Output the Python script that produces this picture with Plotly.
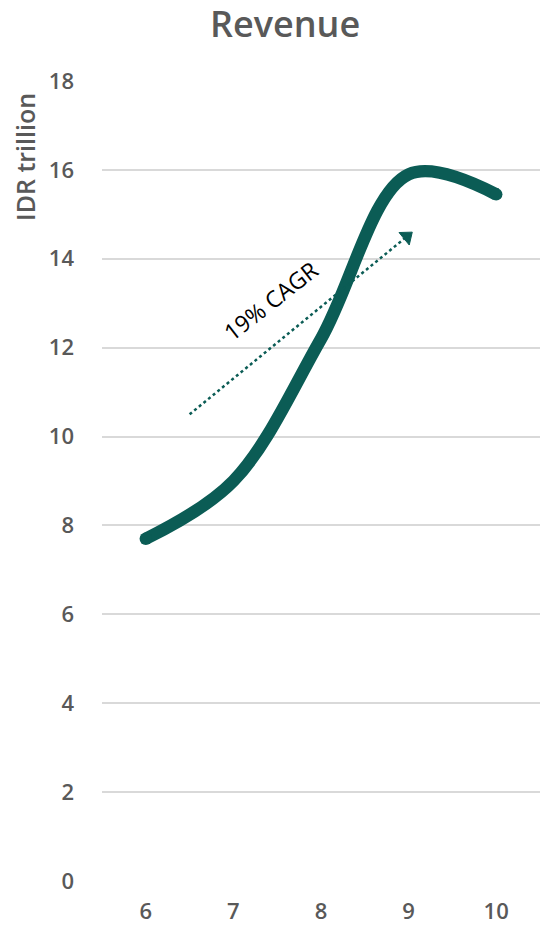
import plotly.graph_objects as go

years = [6, 7, 8, 9, 10]
revenue = [7.7, 9.0, 12.2, 15.9, 15.45]
y_ticks = [0, 2, 4, 6, 8, 10, 12, 14, 16, 18]
arrow_start = (6.5, 10.5)
arrow_end = (8.98, 14.5)
cagr_label = "19% CAGR"

teal = "#0b5c55"
grey = "#595959"
font_family = "Open Sans"

fig = go.Figure()
fig.add_trace(go.Scatter(
    x=years, y=revenue, mode="lines",
    line=dict(color=teal, width=12.5, shape="spline", smoothing=1.0),
    hoverinfo="skip", showlegend=False,
))
# round caps at line ends
fig.add_trace(go.Scatter(
    x=[years[0], years[-1]], y=[revenue[0], revenue[-1]], mode="markers",
    marker=dict(color=teal, size=12.5, line=dict(width=0)),
    hoverinfo="skip", showlegend=False,
))
# dotted CAGR arrow
fig.add_trace(go.Scatter(
    x=[arrow_start[0], arrow_end[0]], y=[arrow_start[1], arrow_end[1]],
    mode="lines+markers", line=dict(color=teal, width=2.5, dash="dot"),
    marker=dict(symbol="triangle-up", angleref="previous", size=[0, 14],
                color=teal, opacity=1, line=dict(width=1, color=teal)),
    hoverinfo="skip", showlegend=False,
))
fig.add_annotation(
    x=7.42, y=13.05, xref="x", yref="y", text=cagr_label, showarrow=False,
    textangle=-38, font=dict(family=font_family, size=23, color="#000000"),
)
fig.add_annotation(
    x=285, y=24, xref="paper", yref="paper", text="Revenue", showarrow=False,
    font=dict(family=font_family, size=36, color=grey, weight=600),
)
fig.add_annotation(
    x=25, y=157, text="IDR trillion", showarrow=False, textangle=-90,
    font=dict(family=font_family, size=25, color=grey, weight=600),
)

# convert pixel-positioned annotations to paper coords
W, H = 540, 927
ml, mr, mt, mb = 102, 0, 81, 46
pw, ph = W - ml - mr, H - mt - mb
for a in fig.layout.annotations[-2:]:
    px, py = a.x, a.y
    a.xref = "paper"; a.yref = "paper"
    a.x = (px - ml) / pw
    a.y = (H - mb - py) / ph
    a.xanchor = "center"; a.yanchor = "middle"

fig.update_layout(
    width=W, height=H,
    margin=dict(l=ml, r=mr, t=mt, b=mb, autoexpand=False),
    paper_bgcolor="white", plot_bgcolor="white",
    font=dict(family=font_family, color=grey),
    xaxis=dict(
        range=[5.5, 10.5], tickvals=years, ticktext=[str(v) for v in years],
        showgrid=False, zeroline=False, showline=False, automargin=False,
        tickfont=dict(size=22, color=grey, weight=600), ticklabelstandoff=15,
    ),
    yaxis=dict(
        range=[0, 18], tickvals=y_ticks, showgrid=True, gridcolor="#d9d9d9",
        gridwidth=1.5, zeroline=False, showline=False, automargin=False,
        tickfont=dict(size=22, color=grey, weight=600), ticklabelstandoff=27,
    ),
)

fig.write_html("out.html")
